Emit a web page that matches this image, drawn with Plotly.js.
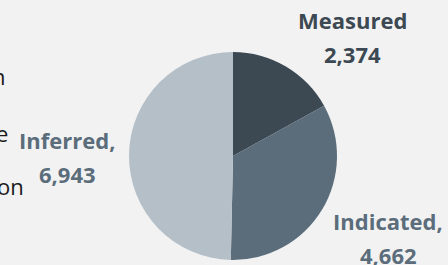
<!DOCTYPE html>
<html>
<head>
<meta charset="utf-8">
<script src="https://cdn.plot.ly/plotly-3.0.1.min.js"></script>
<style>
html,body{margin:0;padding:0;background:#f2f2f2;}
#chart{width:448px;height:265px;}
</style>
</head>
<body>
<div id="chart"></div>
<script>
// Data
const categories = ["Measured", "Indicated", "Inferred"];
const displayNames = ["Measured", "Indicated,", "Inferred,"];
const values = [2374, 4662, 6943];
const sliceColors = ["#3c4953", "#5b6d7b", "#b4bfc8"];
const labelColors = ["#3c4953", "#5b6d7b", "#5b6d7b"];
// cropped body text at the left edge
const sideText = ["n", "e", "on"];

const W = 448, H = 265;
const px = x => x / W;
const py = y => 1 - y / H;
const fmt = v => v.toLocaleString("en-US");

// label anchor positions (pixels): [centerX, nameY, valueY]
const labelPos = [[352, 20, 54], [388, 221, 255], [67, 140, 174]];
const sidePos = [[8, 76], [10, 133], [26, 186]];

const annotations = [];
categories.forEach((c, i) => {
  const [cx, y1, y2] = labelPos[i];
  const f = {family: "Open Sans, sans-serif", size: 22, color: labelColors[i], weight: 700};
  annotations.push({xref: "paper", yref: "paper", x: px(cx), y: py(y1), xanchor: "center", yanchor: "middle",
    text: "<b>" + displayNames[i] + "</b>", showarrow: false, font: f});
  annotations.push({xref: "paper", yref: "paper", x: px(cx), y: py(y2), xanchor: "center", yanchor: "middle",
    text: "<b>" + fmt(values[i]) + "</b>", showarrow: false, font: f});
});
sideText.forEach((t, i) => {
  annotations.push({xref: "paper", yref: "paper", x: px(sidePos[i][0]), y: py(sidePos[i][1]),
    xanchor: "right", yanchor: "middle", text: t, showarrow: false,
    font: {family: "Open Sans, sans-serif", size: 22, color: "#1a1a1a"}});
});

const trace = {
  type: "pie",
  labels: categories,
  values: values,
  sort: false,
  direction: "clockwise",
  rotation: 0,
  textinfo: "none",
  hoverinfo: "label+value",
  marker: {colors: sliceColors, line: {width: 0}},
  domain: {x: [px(129), px(337)], y: [py(260), py(52)]},
  showlegend: false
};

const layout = {
  width: W, height: H,
  margin: {l: 0, r: 0, t: 0, b: 0},
  paper_bgcolor: "#f2f2f2",
  plot_bgcolor: "#f2f2f2",
  showlegend: false,
  annotations: annotations
};

Plotly.newPlot("chart", [trace], layout, {displayModeBar: false, staticPlot: true});
</script>
</body>
</html>
